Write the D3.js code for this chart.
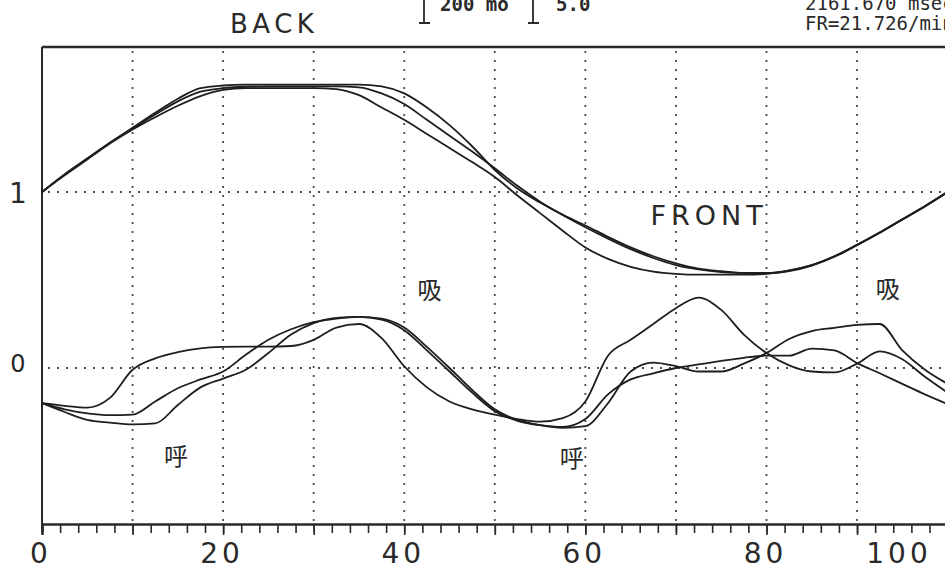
<!DOCTYPE html>
<html>
<head>
<meta charset="utf-8">
<script src="https://cdn.jsdelivr.net/npm/d3@7/dist/d3.min.js"></script>
<style>
  html, body { margin: 0; padding: 0; background: #fff; }
  svg { display: block; }
  .curve { fill: none; stroke: #1e1e1e; stroke-width: 1.8; }
  .grid line { stroke: #4a4a4a; stroke-width: 1.8; stroke-dasharray: 2,7; }
  .lbl { font-family: "DejaVu Sans", sans-serif; fill: #2a2a2a; }
  .mono { font-family: "DejaVu Sans Mono", monospace; fill: #2a2a2a; }
  .cjk { font-family: "Noto Sans CJK JP", "Noto Sans CJK SC", sans-serif; fill: #2a2a2a; }
</style>
</head>
<body>
<svg id="chart" width="945" height="569"></svg>
<script>
// ---- données (pas de 2.5 %) ----
let xVals = [0, 2.5, 5, 7.5, 10, 12.5, 15, 17.5, 20, 22.5, 25, 27.5, 30, 32.5, 35, 37.5, 40,
  42.5, 45, 47.5, 50, 52.5, 55, 57.5, 60, 62.5, 65, 67.5, 70, 72.5, 75, 77.5, 80,
  82.5, 85, 87.5, 90, 92.5, 95, 97.5, 100];

// groupe du haut (3 cycles superposés)
let upper1 = [1.00, 1.10, 1.19, 1.28, 1.365, 1.45, 1.53, 1.59, 1.605, 1.61, 1.61, 1.61, 1.61, 1.61, 1.61, 1.60, 1.56,
  1.48, 1.38, 1.26, 1.125, 1.02, 0.94, 0.87, 0.81, 0.745, 0.685, 0.635, 0.595, 0.565, 0.55, 0.54, 0.54,
  0.555, 0.585, 0.635, 0.70, 0.77, 0.845, 0.92, 1.00];
let upper2 = [1.00, 1.10, 1.19, 1.28, 1.36, 1.44, 1.515, 1.57, 1.59, 1.598, 1.60, 1.60, 1.60, 1.60, 1.595, 1.56, 1.50,
  1.41, 1.32, 1.23, 1.135, 1.035, 0.945, 0.87, 0.80, 0.735, 0.675, 0.625, 0.585, 0.56, 0.545, 0.54, 0.538,
  0.553, 0.584, 0.634, 0.699, 0.769, 0.844, 0.919, 1.00];
let upper3 = [1.00, 1.095, 1.185, 1.275, 1.355, 1.425, 1.49, 1.545, 1.58, 1.59, 1.59, 1.59, 1.59, 1.585, 1.55, 1.48, 1.41,
  1.33, 1.25, 1.17, 1.085, 0.98, 0.88, 0.78, 0.685, 0.62, 0.575, 0.548, 0.535, 0.53, 0.53, 0.53, 0.535,
  0.55, 0.582, 0.632, 0.698, 0.768, 0.843, 0.918, 1.00];

// groupe du bas
let lower1 = [-0.20, -0.215, -0.225, -0.17, -0.01, 0.055, 0.09, 0.112, 0.12, 0.122, 0.122, 0.125, 0.16, 0.23, 0.25, 0.17, 0.01,
  -0.11, -0.19, -0.235, -0.265, -0.29, -0.305, -0.285, -0.19, 0.07, 0.16, 0.25, 0.34, 0.40, 0.33, 0.19, 0.085,
  0.015, -0.02, -0.025, 0.025, 0.095, 0.05, -0.05, -0.14];
let lower2 = [-0.20, -0.235, -0.258, -0.268, -0.265, -0.19, -0.115, -0.065, -0.02, 0.075, 0.16, 0.22, 0.26, 0.28, 0.29, 0.275, 0.215,
  0.10, -0.02, -0.14, -0.245, -0.30, -0.325, -0.335, -0.29, -0.15, -0.065, -0.03, 0.0, 0.02, 0.04, 0.058, 0.07,
  0.07, 0.11, 0.10, 0.028, -0.03, -0.09, -0.15, -0.205];
let lower3 = [-0.20, -0.25, -0.295, -0.31, -0.32, -0.315, -0.21, -0.11, -0.06, -0.01, 0.085, 0.19, 0.255, 0.285, 0.29, 0.28, 0.23,
  0.12, 0.0, -0.125, -0.235, -0.295, -0.325, -0.34, -0.33, -0.20, -0.02, 0.03, 0.01, -0.02, -0.02, 0.025, 0.085,
  0.165, 0.21, 0.228, 0.245, 0.25, 0.10, -0.01, -0.09];

let series = [upper1, upper2, upper3, lower1, lower2, lower3];

let xTickLabels = [0, 20, 40, 60, 80, 100];
let xGridValues = [10, 20, 30, 40, 50, 60, 70, 80, 90];
let yGridValues = [0, 1];
let yTickLabels = ["0", "1"];

// ---- échelles ----
let svg = d3.select("#chart");
let W = 945, H = 569;
let plotLeft = 42, plotTop = 47, plotBottom = 524;

let x = d3.scaleLinear().domain([0, 100]).range([plotLeft, 947.6]);
let y = d3.scaleLinear().domain([0, 1]).range([368, 192]);

// grille pointillée
let grid = svg.append("g").attr("class", "grid");
grid.selectAll("line.v")
  .data(xGridValues)
  .join("line")
  .attr("class", "v")
  .attr("x1", d => x(d)).attr("x2", d => x(d))
  .attr("y1", plotTop + 4).attr("y2", plotBottom);
grid.selectAll("line.h")
  .data(yGridValues)
  .join("line")
  .attr("class", "h")
  .attr("x1", plotLeft + 6).attr("x2", W)
  .attr("y1", d => y(d)).attr("y2", d => y(d));

// cadre
svg.append("line").attr("x1", plotLeft).attr("x2", W).attr("y1", plotTop).attr("y2", plotTop)
  .attr("stroke", "#2a2a2a").attr("stroke-width", 2.6);
svg.append("line").attr("x1", plotLeft).attr("x2", plotLeft).attr("y1", plotTop).attr("y2", plotBottom)
  .attr("stroke", "#2a2a2a").attr("stroke-width", 2);

// axe du bas : petites graduations tous les 2, grandes tous les 10
let minorTicks = d3.range(0, 101, 2);
let majorTicks = d3.range(0, 101, 10);

let axisG = svg.append("g").attr("transform", `translate(0,${plotBottom})`);
axisG.call(d3.axisBottom(x).tickValues(minorTicks).tickSize(9).tickFormat(""));
axisG.append("g").call(d3.axisBottom(x).tickValues(majorTicks).tickSize(11).tickFormat(""));
axisG.selectAll(".domain").attr("stroke", "#2a2a2a").attr("stroke-width", 2.2);
axisG.selectAll(".tick line").attr("stroke", "#2a2a2a").attr("stroke-width", 1.6);

// étiquettes de l'axe x (le 100 est rentré dans le cadre)
svg.selectAll("text.xlab")
  .data(xTickLabels)
  .join("text")
  .attr("class", "xlab lbl")
  .attr("x", d => Math.min(x(d) - 1, W - 46))
  .attr("y", 563)
  .attr("text-anchor", "middle")
  .attr("font-size", 28)
  .attr("letter-spacing", 4)
  .text(d => d);

// étiquettes y
svg.selectAll("text.ylab")
  .data(yGridValues)
  .join("text")
  .attr("class", "ylab lbl")
  .attr("x", 18)
  .attr("y", d => y(d) + (d === 1 ? 11 : 4))
  .attr("text-anchor", "middle")
  .attr("font-size", d => d === 1 ? 28 : 24)
  .text((d, i) => yTickLabels[i]);

// courbes
let line = d3.line()
  .x((d, i) => x(xVals[i]))
  .y(d => y(d))
  .curve(d3.curveMonotoneX);

svg.selectAll("path.curve")
  .data(series)
  .join("path")
  .attr("class", "curve")
  .attr("d", line);

// textes dans le graphe
svg.append("text").attr("class", "lbl").attr("x", x(67.2)).attr("y", y(0.81))
  .attr("font-size", 27).attr("letter-spacing", 5).text("FRONT");
svg.append("text").attr("class", "cjk").attr("x", x(42.8)).attr("y", y(0.39))
  .attr("text-anchor", "middle").attr("font-size", 24).text("吸");
svg.append("text").attr("class", "cjk").attr("x", x(93.4)).attr("y", y(0.40))
  .attr("text-anchor", "middle").attr("font-size", 24).text("吸");
svg.append("text").attr("class", "cjk").attr("x", x(14.8)).attr("y", y(-0.55))
  .attr("text-anchor", "middle").attr("font-size", 24).text("呼");
svg.append("text").attr("class", "cjk").attr("x", x(58.5)).attr("y", y(-0.56))
  .attr("text-anchor", "middle").attr("font-size", 24).text("呼");

// en-tête
svg.append("text").attr("class", "lbl").attr("x", 230).attr("y", 33)
  .attr("font-size", 26).attr("letter-spacing", 4.5).text("BACK");

// barres d'échelle
[424, 533].forEach(bx => {
  svg.append("line").attr("x1", bx).attr("x2", bx).attr("y1", 0).attr("y2", 23)
    .attr("stroke", "#2a2a2a").attr("stroke-width", 1.8);
  svg.append("line").attr("x1", bx - 5).attr("x2", bx + 6).attr("y1", 23).attr("y2", 23)
    .attr("stroke", "#2a2a2a").attr("stroke-width", 2);
});
svg.append("text").attr("class", "mono").attr("x", 440).attr("y", 11)
  .attr("font-size", 19).attr("font-weight", "bold").text("200 mo");
svg.append("text").attr("class", "mono").attr("x", 556).attr("y", 11)
  .attr("font-size", 19).attr("font-weight", "bold").text("5.0");

svg.append("text").attr("class", "mono").attr("x", 805).attr("y", 10)
  .attr("font-size", 19).text("2161.670 msec");
svg.append("text").attr("class", "mono").attr("x", 805).attr("y", 30)
  .attr("font-size", 19).text("FR=21.726/min");
</script>
</body>
</html>
